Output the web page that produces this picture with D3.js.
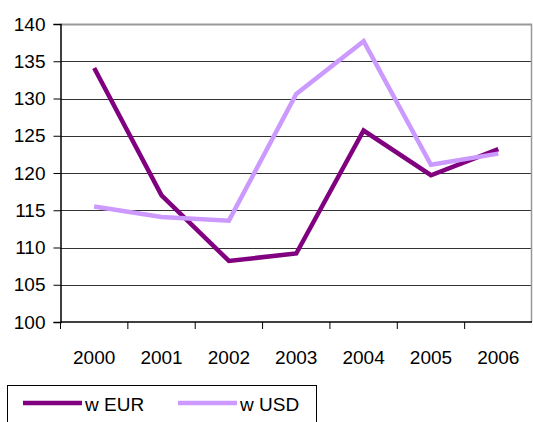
<!DOCTYPE html>
<html>
<head>
<meta charset="utf-8">
<script src="https://cdn.jsdelivr.net/npm/d3@7"></script>
<style>
  body { margin: 0; background: #fff; }
  text { font-family: "Liberation Sans", Arial, sans-serif; fill: #000; }
</style>
</head>
<body>
<div id="chart"></div>
<script>
const years = ["2000", "2001", "2002", "2003", "2004", "2005", "2006"];
const eurValues = [134.1, 117.0, 108.2, 109.2, 125.7, 119.7, 123.2];
const usdValues = [115.5, 114.1, 113.6, 130.6, 137.7, 121.1, 122.6];
const yTicks = [100, 105, 110, 115, 120, 125, 130, 135, 140];
const seriesNames = ["w EUR", "w USD"];
const seriesColors = ["#800080", "#CC99FF"];

const W = 533, H = 422;
const margin = { top: 24, right: 1, bottom: 100, left: 60.5 };
const width = W - margin.left - margin.right,
    height = H - margin.top - margin.bottom;

const svg = d3.select("#chart")
    .append("svg")
    .attr("width", W)
    .attr("height", H);

const g = svg.append("g")
    .attr("transform", "translate(" + margin.left + "," + margin.top + ")");

const x = d3.scaleBand().domain(years).range([0, width]);
const y = d3.scaleLinear().domain([100, 140]).range([height, 0]);

// gridlines
g.selectAll(".grid")
    .data(yTicks.filter(d => d > 100))
    .join("line")
    .attr("x1", 0).attr("x2", width)
    .attr("y1", d => Math.round(y(d)) + 0.5).attr("y2", d => Math.round(y(d)) + 0.5)
    .attr("stroke", d => d === 140 ? "#999" : "#333")
    .attr("stroke-width", d => d === 140 ? 2 : 1);

// right border
g.append("line")
    .attr("x1", width - 0.5).attr("x2", width - 0.5)
    .attr("y1", 0).attr("y2", height)
    .attr("stroke", "#999").attr("stroke-width", 1.5);

// y axis
const yAxis = d3.axisLeft(y).tickValues(yTicks).tickSize(7).tickPadding(8);
const ya = g.append("g").attr("class", "axis y-axis").call(yAxis);
ya.select(".domain").attr("stroke", "#000").attr("stroke-width", 1.5);
ya.selectAll(".tick line").attr("stroke", "#000");
ya.selectAll("text").style("font-size", "19px").attr("font-family", null);

// x axis: ticks on band boundaries
const xa = g.append("g")
    .attr("transform", "translate(0," + height + ")");
xa.append("line")
    .attr("x1", 0).attr("x2", width)
    .attr("stroke", "#000").attr("stroke-width", 1.5);
xa.selectAll(".xt")
    .data(years)
    .join("line")
    .attr("x1", d => x(d)).attr("x2", d => x(d))
    .attr("y1", 0).attr("y2", 7)
    .attr("stroke", "#000");
xa.selectAll(".xl")
    .data(years)
    .join("text")
    .attr("x", d => x(d) + x.bandwidth() / 2)
    .attr("y", 42)
    .attr("text-anchor", "middle")
    .style("font-size", "19px")
    .text(d => d);

// lines
const line = d3.line()
    .x((d, i) => x(years[i]) + x.bandwidth() / 2)
    .y(d => y(d));

[eurValues, usdValues].forEach((vals, i) => {
    g.append("path")
        .datum(vals)
        .attr("fill", "none")
        .attr("stroke", seriesColors[i])
        .attr("stroke-width", 4.5)
        .attr("stroke-linejoin", "miter")
        .attr("d", line);
});

// legend
const legend = svg.append("g");
legend.append("rect")
    .attr("x", 7.5).attr("y", 385.5)
    .attr("width", 309).attr("height", 50)
    .attr("fill", "#fff").attr("stroke", "#000").attr("stroke-width", 1);
const legX = [23, 178];
seriesNames.forEach((name, i) => {
    legend.append("line")
        .attr("x1", legX[i]).attr("x2", legX[i] + 59)
        .attr("y1", 403).attr("y2", 403)
        .attr("stroke", seriesColors[i]).attr("stroke-width", 4.5);
    legend.append("text")
        .attr("x", legX[i] + 62).attr("y", 411)
        .style("font-size", "19px")
        .text(name);
});
</script>
</body>
</html>
